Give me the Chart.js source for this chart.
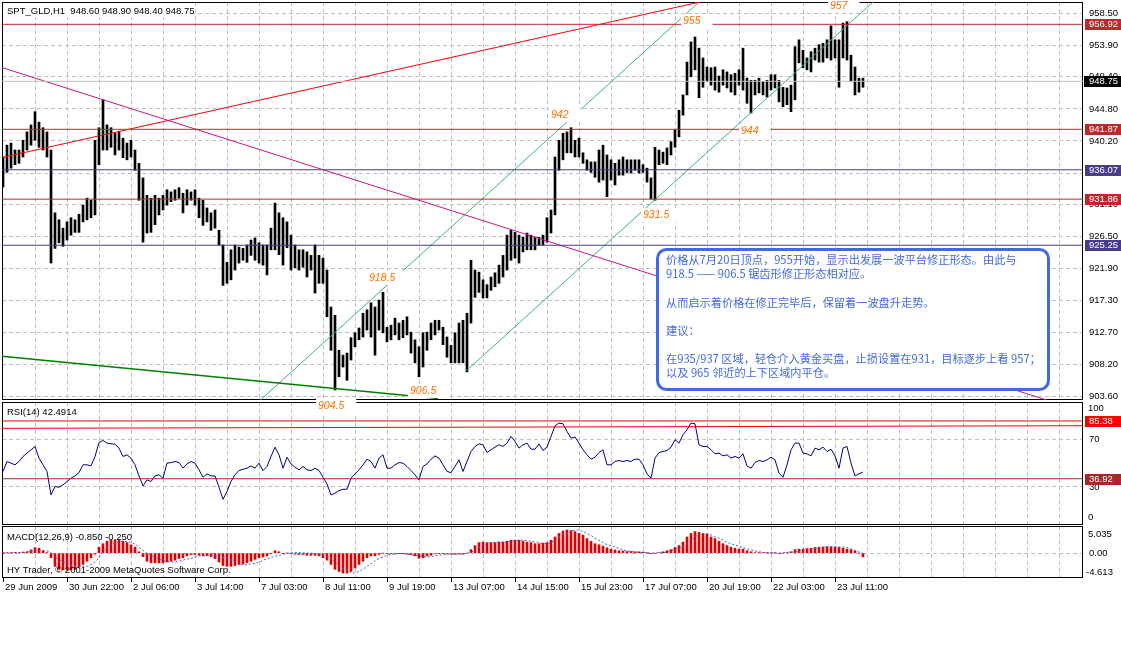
<!DOCTYPE html>
<html lang="zh">
<head>
<meta charset="utf-8">
<title>SPT_GLD,H1</title>
<script src="https://cdn.jsdelivr.net/npm/chart.js@4.4.1/dist/chart.umd.min.js"></script>
<style>
  body { margin: 0; background: #fff; }
  #wrap { position: relative; width: 1121px; height: 672px; overflow: hidden; }
  #wrap canvas { position: absolute; left: 0; }
</style>
</head>
<body>
<div id="wrap">
  <canvas id="rsiChart" width="1121" height="127" style="top:400px"></canvas>
  <canvas id="macdChart" width="1121" height="76" style="top:524px"></canvas>
  <canvas id="mainChart" width="1121" height="417" style="top:0"></canvas>
</div>
<script>
// 📊 Dados (cada ponto = 2 barras H1)
const timeLabels = ['29 Jun 2009', '30 Jun 22:00', '2 Jul 06:00', '3 Jul 14:00', '7 Jul 03:00', '8 Jul 11:00', '9 Jul 19:00',
  '13 Jul 07:00', '14 Jul 15:00', '15 Jul 23:00', '17 Jul 07:00', '20 Jul 19:00', '22 Jul 03:00', '23 Jul 11:00'];
const priceTicks = [903.6, 908.2, 912.7, 917.3, 921.9, 926.5, 931.1, 935.6, 940.2, 944.8, 949.4, 953.9, 958.5];

const highs = [
  937.9, 939.6, 939.9, 938.9, 938.9, 940.3, 941.5, 942.5, 944.4, 942.9,
  942.1, 941.5, 938.9, 929.9, 928.9, 927.7, 928.6, 929.2, 928.9, 929.7,
  931.0, 932.0, 931.7, 940.3, 942.1, 946.1, 942.5, 942.1, 941.3, 941.5,
  940.6, 939.9, 940.3, 938.9, 937.0, 934.9, 932.4, 932.0, 932.4, 932.0,
  932.4, 933.2, 932.9, 933.2, 933.5, 932.7, 933.2, 932.9, 933.2, 932.0,
  931.7, 930.6, 929.9, 930.3, 927.4, 925.3, 922.8, 924.6, 925.3, 925.0,
  924.8, 925.3, 926.0, 926.3, 925.6, 925.3, 925.3, 927.7, 931.3, 929.9,
  929.2, 928.6, 926.7, 925.3, 924.6, 924.6, 924.3, 923.8, 925.3, 923.8,
  923.4, 921.7, 916.4, 915.2, 910.2, 909.5, 909.8, 912.0, 912.7, 913.4,
  915.5, 916.0, 917.0, 916.4, 917.4, 918.5, 913.5, 913.8, 914.8, 914.1,
  914.5, 915.0, 912.8, 911.7, 910.7, 912.7, 912.8, 914.1, 914.5, 914.5,
  913.5, 912.1, 910.9, 912.7, 914.1, 914.5, 915.5, 923.1, 921.7, 921.4,
  920.3, 919.6, 920.7, 921.3, 922.4, 923.8, 926.7, 927.4, 927.1, 926.7,
  926.4, 927.0, 926.7, 926.4, 926.4, 926.7, 929.2, 930.3, 937.9, 940.3,
  941.3, 941.5, 942.1, 940.3, 940.6, 938.5, 937.5, 937.2, 937.2, 938.9,
  939.6, 938.2, 937.5, 937.0, 937.5, 937.9, 937.5, 937.5, 937.5, 937.5,
  936.8, 936.3, 934.9, 939.3, 938.9, 938.6, 939.2, 940.1, 941.8, 944.6,
  946.8, 951.5, 954.4, 955.1, 953.5, 952.1, 950.8, 950.7, 950.8, 949.5,
  950.4, 950.1, 949.7, 949.9, 950.4, 953.5, 949.2, 948.9, 948.9, 949.2,
  948.7, 948.9, 949.7, 949.7, 948.9, 947.9, 947.8, 948.2, 953.7, 954.7,
  953.2, 952.1, 953.0, 953.5, 954.0, 954.2, 954.7, 956.7, 954.7, 954.7,
  957.1, 957.3, 952.5, 950.8, 949.2, 949.2
];
const lows = [
  933.6, 935.7, 936.3, 936.8, 937.0, 937.9, 938.9, 939.6, 940.3, 939.3,
  938.9, 937.9, 922.7, 924.8, 925.6, 925.1, 926.0, 926.7, 927.1, 927.1,
  928.6, 928.9, 929.2, 929.6, 936.8, 938.9, 938.9, 939.3, 938.2, 938.9,
  937.8, 937.5, 937.9, 936.0, 931.7, 925.7, 927.0, 927.1, 928.2, 929.6,
  930.3, 931.0, 931.5, 931.7, 932.0, 929.9, 931.0, 931.7, 931.0, 929.2,
  928.1, 928.6, 927.4, 927.7, 925.3, 919.5, 919.8, 920.3, 921.7, 922.7,
  923.1, 922.8, 923.8, 923.1, 922.7, 922.4, 921.0, 924.6, 924.6, 923.9,
  922.4, 924.9, 921.7, 922.0, 921.7, 922.1, 920.7, 921.7, 918.4, 919.8,
  919.8, 915.0, 910.2, 904.5, 906.4, 907.8, 905.9, 908.8, 910.7, 911.7,
  912.1, 913.1, 912.1, 909.5, 913.1, 912.7, 911.4, 911.7, 912.4, 911.7,
  912.0, 912.4, 909.8, 908.4, 906.4, 907.8, 910.2, 911.7, 912.4, 913.1,
  911.0, 909.2, 908.4, 908.4, 908.4, 908.4, 907.1, 914.1, 917.8, 918.5,
  917.7, 917.7, 918.8, 919.3, 919.8, 920.7, 921.7, 923.1, 923.4, 922.7,
  924.3, 924.6, 924.6, 924.6, 925.3, 925.3, 925.7, 927.0, 929.6, 936.0,
  937.5, 938.5, 938.5, 937.9, 937.9, 937.0, 936.0, 935.7, 935.0, 934.3,
  934.6, 932.2, 934.6, 933.9, 935.3, 935.3, 935.7, 935.6, 936.0, 935.6,
  935.7, 934.3, 931.9, 931.7, 936.8, 937.0, 936.8, 938.2, 939.3, 940.8,
  943.9, 946.8, 949.4, 950.4, 946.4, 947.9, 948.7, 948.2, 947.5, 947.2,
  948.2, 947.8, 947.2, 946.8, 948.2, 947.5, 945.6, 944.2, 946.8, 947.1,
  946.8, 946.5, 947.5, 947.8, 945.8, 945.1, 945.4, 944.4, 946.1, 951.4,
  950.7, 950.4, 950.1, 951.8, 951.5, 951.5, 952.1, 951.8, 952.1, 947.9,
  952.1, 951.8, 948.7, 946.8, 947.2, 947.9
];
const rsiValues = [
  43.0, 51.4, 50.0, 48.6, 51.4, 55.6, 58.4, 61.2, 64.0, 54.2,
  48.6, 43.0, 23.4, 30.4, 29.8, 31.8, 34.6, 37.4, 39.3, 42.1,
  48.6, 48.6, 47.7, 55.6, 67.3, 69.0, 66.8, 66.2, 65.9, 62.6,
  55.6, 57.0, 54.2, 48.6, 39.3, 30.9, 36.0, 34.6, 39.3, 40.2,
  37.4, 50.0, 50.5, 51.4, 50.5, 45.8, 49.4, 51.4, 50.0, 44.4,
  38.2, 41.0, 39.3, 39.3, 29.8, 19.7, 26.2, 34.6, 40.2, 43.8,
  44.9, 45.8, 47.7, 45.8, 50.0, 43.8, 47.2, 55.6, 63.4, 57.0,
  45.8, 55.0, 49.4, 46.6, 44.4, 47.2, 44.4, 43.8, 45.8, 43.8,
  38.2, 32.6, 23.4, 24.8, 27.0, 28.1, 28.1, 37.4, 41.0, 44.4,
  48.6, 53.3, 51.4, 45.8, 54.2, 57.0, 45.8, 45.8, 48.6, 50.5,
  50.0, 47.2, 43.8, 40.2, 36.0, 47.2, 49.4, 53.3, 56.1, 54.2,
  48.6, 43.0, 42.1, 47.2, 52.8, 43.0, 51.4, 59.8, 64.0, 66.2,
  65.4, 58.9, 61.2, 63.4, 65.4, 64.0, 66.8, 72.4, 68.2, 62.6,
  65.4, 66.8, 61.7, 61.7, 66.2, 60.6, 63.4, 72.4, 81.3, 83.6,
  83.0, 76.6, 71.0, 71.9, 66.8, 61.2, 57.0, 53.3, 55.0, 58.9,
  61.2, 48.6, 48.6, 51.4, 52.2, 51.4, 52.2, 51.4, 53.3, 53.3,
  48.6, 41.0, 37.4, 54.2, 58.9, 59.8, 60.6, 63.4, 69.6, 66.8,
  73.8, 78.0, 83.6, 83.0, 65.4, 64.0, 64.0, 61.2, 57.8, 58.4,
  56.1, 57.0, 54.2, 55.6, 54.2, 57.8, 47.7, 45.8, 50.5, 52.2,
  51.4, 52.8, 55.0, 52.8, 41.6, 38.2, 48.6, 61.2, 66.8, 66.8,
  58.4, 57.8, 56.1, 62.6, 61.2, 63.4, 59.8, 61.7, 56.1, 45.8,
  62.6, 64.0, 50.0, 39.3, 41.0, 42.5
];
const macdHist = [
  0.05, 0.1, 0.1, 0.15, 0.1, 0.2, 0.25, 0.6, 1.0, 0.9,
  0.45, 0.1, -0.85, -2.45, -3.0, -3.1, -3.1, -3.1, -3.0, -2.6,
  -2.1, -1.5, -0.85, -0.2, 1.1, 1.75, 2.2, 2.4, 2.4, 2.4,
  2.2, 1.95, 1.55, 1.1, 0.25, -0.65, -1.5, -1.8, -1.8, -1.8,
  -1.8, -1.65, -1.5, -1.3, -1.0, -0.85, -0.5, -0.25, -0.25, -0.4,
  -0.5, -0.5, -0.65, -1.0, -1.65, -2.3, -2.45, -2.45, -2.3, -2.1,
  -2.0, -1.8, -1.5, -1.15, -0.85, -0.7, -0.5, -0.05, 0.45, 0.25,
  -0.05, 0, -0.05, -0.2, -0.25, -0.25, -0.4, -0.4, -0.4, -0.5,
  -0.85, -1.3, -2.1, -3.0, -3.4, -3.7, -3.7, -3.4, -2.75, -2.1,
  -1.5, -0.85, -0.5, -0.5, -0.25, 0, -0.05, -0.15, -0.15, -0.05,
  -0.05, -0.2, -0.25, -0.5, -0.95, -0.85, -0.5, -0.4, -0.15, -0.05,
  -0.05, -0.15, -0.15, -0.2, -0.15, -0.2, 0, 0.65, 1.4, 1.95,
  2.05, 1.95, 1.95, 1.95, 2.05, 2.05, 2.2, 2.4, 2.4, 2.4,
  2.2, 2.05, 1.95, 1.75, 1.75, 1.85, 1.95, 2.4, 3.0, 3.65,
  4.1, 4.3, 4.2, 4.0, 3.65, 3.35, 2.7, 2.2, 1.75, 1.55,
  1.3, 1.0, 0.75, 0.6, 0.45, 0.4, 0.3, 0.3, 0.25, 0.25,
  0.2, 0.05, -0.05, 0, 0.1, 0.25, 0.45, 0.65, 1.05, 1.4,
  2.05, 3.0, 3.65, 4.0, 3.85, 3.65, 3.5, 3.0, 2.7, 2.2,
  1.75, 1.4, 1.1, 0.9, 0.75, 0.75, 0.45, 0.25, 0.1, 0.1,
  0.05, 0.05, 0.05, 0.1, -0.05, 0, 0.1, 0.25, 0.65, 0.75,
  0.75, 0.85, 0.9, 1.05, 1.1, 1.15, 1.2, 1.15, 1.1, 1.05,
  0.9, 0.75, 0.65, 0.4, 0, -0.7
];
const macdSignal = [
  0, 0, 0, 0, 0.05, 0.1, 0.2, 0.35, 0.45, 0.45,
  0.45, 0.4, 0.1, -0.6, -1.2, -1.6, -1.8, -2.2, -2.4, -2.45,
  -2.45, -2.45, -2.1, -1.7, -0.8, 0.3, 1.1, 1.6, 1.9, 2.1,
  2.2, 2.1, 2.0, 1.7, 1.1, 0.5, 0, -0.4, -0.8, -1.1,
  -1.4, -1.5, -1.65, -1.65, -1.5, -1.3, -1.1, -1.0, -0.7, -0.55,
  -0.5, -0.45, -0.4, -0.45, -0.6, -0.85, -0.85, -1.3, -1.6, -2.0,
  -2.2, -2.1, -2.0, -1.9, -1.7, -1.3, -1.1, -0.85, -0.55, -0.45,
  -0.2, 0, 0.05, 0.1, 0.1, 0.05, 0, 0, -0.1, -0.2,
  -0.45, -0.5, -1.0, -1.6, -2.3, -2.9, -3.2, -3.6, -3.7, -3.4,
  -3.0, -2.45, -2.0, -1.4, -1.0, -0.7, -0.4, -0.25, -0.15, -0.1,
  -0.05, -0.2, -0.3, -0.45, -0.5, -0.6, -0.7, -0.7, -0.5, -0.4,
  -0.3, -0.25, -0.2, -0.2, -0.2, -0.15, -0.05, 0.1, 0.6, 1.1,
  1.5, 1.8, 1.9, 2.0, 2.05, 2.05, 2.05, 2.2, 2.3, 2.4,
  2.4, 2.3, 2.2, 2.1, 1.95, 1.8, 1.75, 1.9, 2.4, 3.0,
  3.5, 3.65, 4.0, 4.3, 4.3, 4.0, 3.65, 3.3, 2.8, 2.4,
  1.9, 1.6, 1.4, 1.1, 0.9, 0.6, 0.45, 0.3, 0.2, 0.15,
  0.1, 0.05, 0, 0, 0.05, 0.1, 0.15, 0.5, 0.7, 0.9,
  1.2, 1.75, 2.3, 3.0, 3.5, 3.65, 3.65, 3.4, 3.0, 2.8,
  2.4, 2.0, 1.75, 1.5, 1.25, 1.0, 0.8, 0.6, 0.4, 0.25,
  0.15, 0.05, 0, 0, 0, 0.05, 0.15, 0.2, 0.25, 0.4,
  0.5, 0.6, 0.7, 0.85, 1.0, 1.1, 1.15, 1.2, 1.2, 1.15,
  1.1, 1.05, 0.8, 0.5, 0.2, -0.05
];

// níveis horizontais e linhas de tendência (índice, preço)
const redLevels = [956.92, 941.87, 931.86];
const blueLevels = [936.07, 925.25];
const lastPrice = 948.75;
const rsiLevelHigh = 85.38;
const rsiLevelLow = 36.92;
const rsiTrend = [[-0.25, 79.2], [270, 81.4]];
const redTrend = [[-0.25, 937.83], [174.5, 960.15]];
const pinkTrend = [[-0.25, 950.72], [260.9, 903.07]];
const greenTrend = [[-0.25, 909.35], [108.75, 903.28]];
const channelUpper = [[64.25, 903.0], [173.75, 959.98]];
const channelLower = [[115.5, 907.08], [217.5, 960.12]];

// anotações em laranja
const noteText = ['955', '957', '942', '944', '931.5', '918.5', '906.5', '904.5'];
const noteIdx = [170, 206.75, 137, 184.5, 160, 91.5, 101.75, 78.75];
const notePrice = [957.4, 959.55, 943.92, 941.7, 929.59, 920.56, 904.36, 902.21];

// caixa de texto
const boxIdx = 163.5;
const boxPrice = 924.7;
const boxLines = [
  '价格从7月20日顶点，955开始，显示出发展一波平台修正形态。由此与',
  '918.5 —— 906.5 锯齿形修正形态相对应。',
  '',
  '从而启示着价格在修正完毕后，保留着一波盘升走势。',
  '',
  '建议：',
  '',
  '在935/937 区域，轻仓介入黄金买盘，止损设置在931，目标逐步上看 957；',
  '以及 965 邻近的上下区域内平仓。'
];

const FONT = '"Liberation Sans", Arial, sans-serif';
const CJK = '"Noto Sans CJK SC", sans-serif';
const X_MIN = -0.25, X_MAX = 270;
const gridIdx = [];
for (let v = 0; v <= 264; v += 8) gridIdx.push(v);

// 🔧 funções auxiliares
function linha(pts, cor, largura, dash) {
  return {
    type: 'line', data: pts.map(p => ({ x: p[0], y: p[1] })),
    borderColor: cor, borderWidth: largura || 1, borderDash: dash || [],
    pointRadius: 0, fill: false, tension: 0, order: 0, clip: 0
  };
}
function horizontal(v, cor) { return linha([[X_MIN, v], [X_MAX, v]], cor, 1); }

function eixoX(comRotulos) {
  return {
    type: 'linear', min: X_MIN, max: X_MAX, offset: false,
    afterBuildTicks: s => { s.ticks = gridIdx.map(v => ({ value: v })); },
    afterFit: s => {
      if (comRotulos) s.height = 22;
      s.paddingLeft = 0; s.paddingRight = 0;
    },
    grid: {
      offset: false, lineWidth: 1, drawTicks: comRotulos, tickLength: 4,
      color: c => (c.tick && c.tick.value === 0) ? 'rgba(0,0,0,0)' : '#c0c0c0',
      tickColor: c => (c.tick && c.tick.value % 16 === 0 && c.tick.value / 16 < timeLabels.length) ? '#000' : 'rgba(0,0,0,0)'
    },
    border: { display: false, dash: [4, 3] },
    ticks: {
      display: comRotulos, autoSkip: false, maxRotation: 0, minRotation: 0,
      align: 'start', padding: 0, labelOffset: 2, color: '#000',
      font: { family: FONT, size: 9.5 },
      callback: v => (v % 16 === 0 && timeLabels[v / 16]) ? timeLabels[v / 16] : ''
    }
  };
}

function eixoY(min, max, valores, formato) {
  return {
    position: 'right', min: min, max: max,
    afterBuildTicks: s => { s.ticks = valores.map(v => ({ value: v })); },
    afterFit: s => { s.width = 38; s.paddingTop = 0; s.paddingBottom = 0; },
    grid: { color: '#c0c0c0', drawTicks: true, tickLength: 4, tickColor: 'rgba(0,0,0,0)' },
    border: { display: false, dash: [4, 3] },
    ticks: { color: '#000', padding: 2, font: { family: FONT, size: 9.5 }, callback: formato }
  };
}

function moldura(chart) {
  const a = chart.chartArea, ctx = chart.ctx;
  ctx.save();
  ctx.strokeStyle = '#000';
  ctx.lineWidth = 1;
  ctx.strokeRect(a.left + 0.5, a.top + 0.5, a.right - a.left - 1, a.bottom - a.top - 1);
  ctx.restore();
}

function etiqueta(ctx, yPix, texto, fundo, left) {
  const y = Math.round(yPix);
  ctx.fillStyle = fundo;
  ctx.fillRect(left + 2, y - 5, 36, 11);
  ctx.fillStyle = '#fff';
  ctx.font = '9.5px ' + FONT;
  ctx.textAlign = 'left';
  ctx.textBaseline = 'middle';
  ctx.fillText(texto, left + 6, y + 0.5);
}

const opcoesBase = {
  responsive: false, animation: false, devicePixelRatio: 1, events: [],
  plugins: { legend: { display: false }, tooltip: { enabled: false } }
};

// 📈 Gráfico principal (barras de preço)
const barras = highs.map((h, i) => ({ x: i, y: [lows[i], h] }));

const decorPrincipal = {
  id: 'decorPrincipal',
  beforeDatasetsDraw(chart) { moldura(chart); },
  afterDatasetsDraw(chart) {
    const { ctx, scales: { x, y } } = chart;
    ctx.save();
    // caixa de comentário
    const bx = Math.round(x.getPixelForValue(boxIdx));
    const by = Math.round(y.getPixelForValue(boxPrice));
    ctx.beginPath();
    ctx.roundRect(bx + 0.5, by + 0.5, 391, 140, 9);
    ctx.fillStyle = '#fff';
    ctx.fill();
    ctx.lineWidth = 3;
    ctx.strokeStyle = '#4169e1';
    ctx.stroke();
    ctx.fillStyle = '#4169e1';
    ctx.font = '11.2px ' + CJK;
    ctx.textAlign = 'left';
    ctx.textBaseline = 'middle';
    boxLines.forEach((t, k) => ctx.fillText(t, bx + 9, by + 11 + k * 14.1));
    // anotações
    ctx.font = 'italic 10.5px ' + FONT;
    noteText.forEach((t, k) => {
      const px = Math.round(x.getPixelForValue(noteIdx[k]));
      const py = Math.round(y.getPixelForValue(notePrice[k]));
      const w = ctx.measureText(t).width;
      ctx.fillStyle = '#fff';
      ctx.fillRect(px - 2, py - 7, w + 14, 14);
      ctx.fillStyle = '#ff7000';
      ctx.fillText(t, px, py + 0.5);
    });
    ctx.restore();
  },
  afterDraw(chart) {
    const { ctx, chartArea: a, scales: { y } } = chart;
    ctx.save();
    ctx.fillStyle = '#fff';
    ctx.fillRect(a.left + 1, a.top + 1, 190, 14);
    ctx.fillStyle = '#000';
    ctx.font = '9.5px ' + FONT;
    ctx.textBaseline = 'middle';
    ctx.fillText('SPT_GLD,H1  948.60 948.90 948.40 948.75', a.left + 5, a.top + 9);
    redLevels.forEach(v => etiqueta(ctx, y.getPixelForValue(v), v.toFixed(2), '#c0272d', y.left));
    blueLevels.forEach(v => etiqueta(ctx, y.getPixelForValue(v), v.toFixed(2), '#483d8b', y.left));
    const yp = Math.round(y.getPixelForValue(lastPrice));
    ctx.fillStyle = '#000';
    ctx.fillRect(y.left + 1, yp - 5, 38, 11);
    ctx.fillStyle = '#fff';
    ctx.fillText(lastPrice.toFixed(2), y.left + 6, yp + 0.5);
    ctx.restore();
  }
};

new Chart(document.getElementById('mainChart'), {
  type: 'bar',
  data: {
    datasets: [
      { type: 'bar', data: barras, backgroundColor: '#000', borderWidth: 0, barThickness: 2, order: 10 },
      horizontal(lastPrice, '#c0c0c0'),
      ...redLevels.map(v => horizontal(v, '#c0272d')),
      ...blueLevels.map(v => horizontal(v, '#483d8b')),
      linha(greenTrend, '#008000', 1.5),
      linha(pinkTrend, '#c71585', 1),
      linha(redTrend, '#ff0000', 1),
      linha(channelUpper, '#3cb371', 1),
      linha(channelLower, '#3cb371', 1)
    ]
  },
  options: {
    ...opcoesBase,
    layout: { padding: { left: 2, top: 2, right: 0, bottom: 17 } },
    scales: {
      x: eixoX(false),
      y: eixoY(903.07, 960.12, priceTicks, v => v.toFixed(2))
    }
  },
  plugins: [decorPrincipal]
});

// 📉 RSI(14)
const decorRsi = {
  id: 'decorRsi',
  beforeDatasetsDraw(chart) { moldura(chart); },
  afterDraw(chart) {
    const { ctx, chartArea: a, scales: { y } } = chart;
    ctx.save();
    ctx.fillStyle = '#000';
    ctx.font = '9.5px ' + FONT;
    ctx.textBaseline = 'middle';
    ctx.fillText('RSI(14) 42.4914', a.left + 5, a.top + 10);
    ctx.fillText('100', y.left + 5, a.top + 6);
    ctx.fillText('0', y.left + 5, a.bottom - 8);
    etiqueta(ctx, y.getPixelForValue(rsiLevelHigh), rsiLevelHigh.toFixed(2), '#ff0000', y.left);
    etiqueta(ctx, y.getPixelForValue(rsiLevelLow), rsiLevelLow.toFixed(2), '#a52a2a', y.left);
    ctx.restore();
  }
};

new Chart(document.getElementById('rsiChart'), {
  type: 'line',
  data: {
    datasets: [
      horizontal(rsiLevelHigh, '#ff0000'),
      linha(rsiTrend, '#ff0000', 1),
      horizontal(rsiLevelLow, '#a52a2a'),
      { data: rsiValues.map((v, i) => ({ x: i, y: v })), borderColor: '#000080', borderWidth: 1,
        pointRadius: 0, tension: 0, fill: false, order: 0, clip: 0 }
    ]
  },
  options: {
    ...opcoesBase,
    layout: { padding: { left: 2, top: 2, right: 0, bottom: 2 } },
    scales: {
      x: eixoX(false),
      y: eixoY(-1.87, 101.28, [30, 70], v => String(v))
    }
  },
  plugins: [decorRsi]
});

// 📊 MACD(12,26,9)
const decorMacd = {
  id: 'decorMacd',
  beforeDatasetsDraw(chart) { moldura(chart); },
  afterDraw(chart) {
    const { ctx, chartArea: a, scales: { y } } = chart;
    ctx.save();
    ctx.fillStyle = '#000';
    ctx.font = '9.5px ' + FONT;
    ctx.textBaseline = 'middle';
    ctx.fillText('MACD(12,26,9) -0.850 -0.250', a.left + 5, a.top + 11);
    ctx.fillText('HY Trader, © 2001-2009 MetaQuotes Software Corp.', a.left + 5, a.top + 44);
    ctx.fillText('5.035', y.left + 5, a.top + 8);
    ctx.fillText('-4.613', y.left + 3, a.bottom - 6);
    ctx.restore();
  }
};

new Chart(document.getElementById('macdChart'), {
  type: 'bar',
  data: {
    datasets: [
      { type: 'bar', data: macdHist.map((v, i) => ({ x: i, y: v })), backgroundColor: '#dd0000',
        borderWidth: 0, barThickness: 2, order: 10 },
      { type: 'line', data: macdSignal.map((v, i) => ({ x: i, y: v })), borderColor: '#3a66e0',
        borderWidth: 1, borderDash: [2, 2], pointRadius: 0, tension: 0, fill: false, order: 0, clip: 0 }
    ]
  },
  options: {
    ...opcoesBase,
    layout: { padding: { left: 2, top: 2, right: 0, bottom: 0 } },
    scales: {
      x: eixoX(true),
      y: eixoY(-4.613, 5.035, [0], () => '0.00')
    }
  },
  plugins: [decorMacd]
});
</script>
</body>
</html>
